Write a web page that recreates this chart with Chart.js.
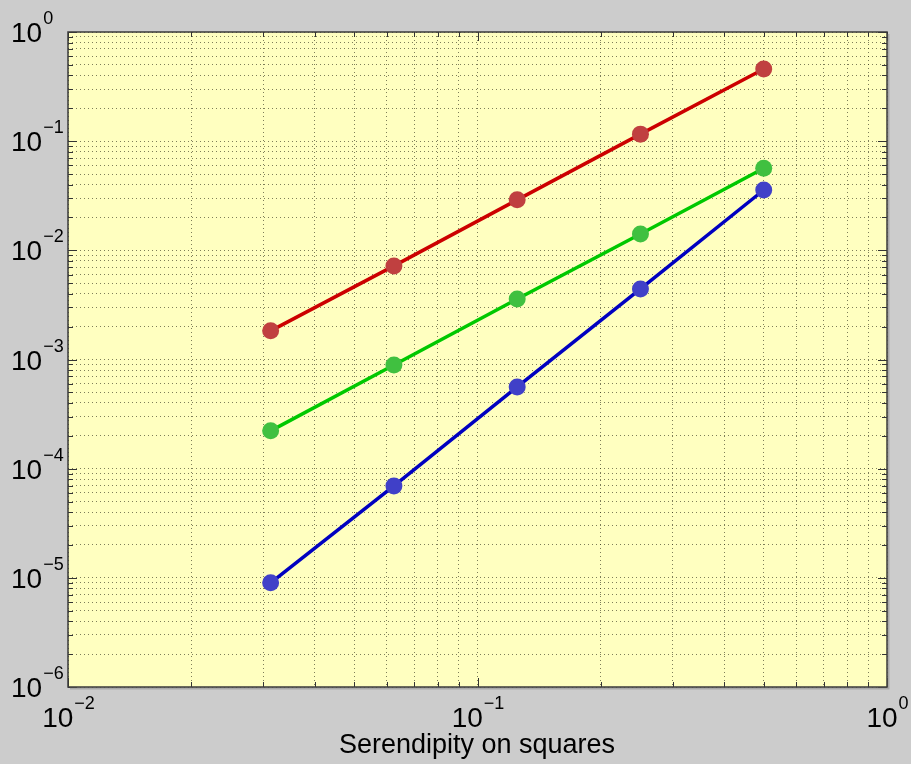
<!DOCTYPE html>
<html lang="en">
<head>
  <meta charset="UTF-8" />
  <title>Serendipity on squares</title>
  <script src="https://cdn.jsdelivr.net/npm/chart.js"></script>
  <style>
    * {
      box-sizing: border-box;
      margin: 0;
      padding: 0;
    }

    body {
      background-color: #cccccc;
      overflow: hidden;
    }

    .wrap {
      width: 911px;
      height: 764px;
      position: relative;
    }
  </style>
</head>
<body>
  <div class="wrap">
    <canvas id="grafico"></canvas>
  </div>

<script>
  // mesh sizes along x, errors for the three series
  const xValues = [0.03125, 0.0625, 0.125, 0.25, 0.5];
  const redValues = [1.83e-3, 7.2e-3, 2.9e-2, 1.16e-1, 4.58e-1];
  const greenValues = [2.22e-4, 8.9e-4, 3.58e-3, 1.41e-2, 5.65e-2];
  const blueValues = [9.0e-6, 6.95e-5, 5.6e-4, 4.43e-3, 3.57e-2];

  // decade exponents shown on each axis
  const xDecades = [-2, -1, 0];
  const yDecades = [-6, -5, -4, -3, -2, -1, 0];
  const axisTitle = "Serendipity on squares";

  const FONT = "'Liberation Sans', Arial, sans-serif";

  function logTicks(decades) {
    const ticks = [];
    for (let i = 0; i < decades.length; i++) {
      const base = Math.pow(10, decades[i]);
      if (i === decades.length - 1) {
        ticks.push({ value: base, major: true });
        break;
      }
      for (let m = 1; m <= 9; m++) {
        ticks.push({ value: Number((m * base).toPrecision(3)), major: m === 1 });
      }
    }
    return ticks;
  }

  function toPoints(ys) {
    return xValues.map((x, i) => ({ x: x, y: ys[i] }));
  }

  function serie(label, ys, line, dot) {
    return {
      label: label,
      data: toPoints(ys),
      showLine: true,
      borderColor: line,
      borderWidth: 3.5,
      pointBackgroundColor: dot,
      pointBorderColor: dot,
      pointRadius: 8.5,
      pointBorderWidth: 0,
      fill: false,
    };
  }

  function superLabel(ctx, exp, x, y, align) {
    const main = "10";
    const sup = exp < 0 ? "\u2212" + Math.abs(exp) : String(exp);
    ctx.font = "28px " + FONT;
    const wMain = ctx.measureText(main).width;
    ctx.font = "18px " + FONT;
    const wSup = ctx.measureText(sup).width;
    let x0 = x;
    if (align === "center") x0 = x - (wMain + wSup) / 2;
    ctx.fillStyle = "#000";
    ctx.textAlign = "left";
    ctx.textBaseline = "alphabetic";
    ctx.font = "28px " + FONT;
    ctx.fillText(main, x0, y);
    ctx.font = "18px " + FONT;
    ctx.fillText(sup, x0 + wMain + 1, y - 18);
  }

  const moldura = {
    id: "moldura",
    beforeDraw(chart) {
      const { ctx, chartArea: a } = chart;
      ctx.save();
      ctx.fillStyle = "#ffffc0";
      ctx.fillRect(a.left, a.top, a.right - a.left, a.bottom - a.top);
      ctx.restore();
    },
    afterDraw(chart) {
      const { ctx, chartArea: a } = chart;
      const sx = chart.scales.x;
      const sy = chart.scales.y;
      ctx.save();

      // tick marks on all four sides
      ctx.strokeStyle = "#333";
      ctx.lineWidth = 1;
      ctx.beginPath();
      sx.ticks.forEach((t) => {
        const px = Math.round(sx.getPixelForValue(t.value)) + 0.5;
        const len = t.major ? 9 : 5;
        ctx.moveTo(px, a.bottom);
        ctx.lineTo(px, a.bottom - len);
        ctx.moveTo(px, a.top);
        ctx.lineTo(px, a.top + len);
      });
      sy.ticks.forEach((t) => {
        const py = Math.round(sy.getPixelForValue(t.value)) + 0.5;
        const len = t.major ? 9 : 5;
        ctx.moveTo(a.left, py);
        ctx.lineTo(a.left + len, py);
        ctx.moveTo(a.right, py);
        ctx.lineTo(a.right - len, py);
      });
      ctx.stroke();

      // shadow and frame
      ctx.strokeStyle = "#a8a8a8";
      ctx.lineWidth = 2;
      ctx.beginPath();
      ctx.moveTo(a.right + 1.5, a.top + 2);
      ctx.lineTo(a.right + 1.5, a.bottom + 1.5);
      ctx.lineTo(a.left + 2, a.bottom + 1.5);
      ctx.stroke();
      ctx.strokeStyle = "#3a3a3a";
      ctx.lineWidth = 1.5;
      ctx.strokeRect(a.left, a.top, a.right - a.left, a.bottom - a.top);

      // tick labels
      yDecades.forEach((e) => {
        const py = sy.getPixelForValue(Math.pow(10, e));
        superLabel(ctx, e, 11, py + 10, "left");
      });
      xDecades.forEach((e) => {
        const px = sx.getPixelForValue(Math.pow(10, e));
        superLabel(ctx, e, px, a.bottom + 40, "center");
      });

      // axis title
      ctx.font = "27px " + FONT;
      ctx.fillStyle = "#000";
      ctx.textAlign = "center";
      ctx.fillText(axisTitle, 477, 753);
      ctx.restore();
    },
  };

  const grade = {
    display: true,
    color: "rgba(40, 40, 20, 0.6)",
    lineWidth: 1,
    drawTicks: false,
  };

  new Chart(document.getElementById("grafico"), {
    type: "scatter",
    data: {
      datasets: [
        serie("red", redValues, "#cc0000", "#c04040"),
        serie("green", greenValues, "#00c800", "#40c040"),
        serie("blue", blueValues, "#0000c0", "#4040c8"),
      ],
    },
    options: {
      responsive: true,
      maintainAspectRatio: false,
      animation: false,
      layout: {
        padding: { left: 68, top: 32, right: 24, bottom: 77 },
      },
      plugins: {
        legend: { display: false },
        tooltip: { enabled: false },
      },
      scales: {
        x: {
          type: "logarithmic",
          min: Math.pow(10, xDecades[0]),
          max: Math.pow(10, xDecades[xDecades.length - 1]),
          afterBuildTicks: (scale) => { scale.ticks = logTicks(xDecades); },
          ticks: { display: false, autoSkip: false },
          grid: grade,
          border: { display: false, dash: [1, 3] },
        },
        y: {
          type: "logarithmic",
          min: Math.pow(10, yDecades[0]),
          max: Math.pow(10, yDecades[yDecades.length - 1]),
          afterBuildTicks: (scale) => { scale.ticks = logTicks(yDecades); },
          ticks: { display: false, autoSkip: false },
          grid: grade,
          border: { display: false, dash: [1, 3] },
        },
      },
    },
    plugins: [moldura],
  });
</script>
</body>
</html>
